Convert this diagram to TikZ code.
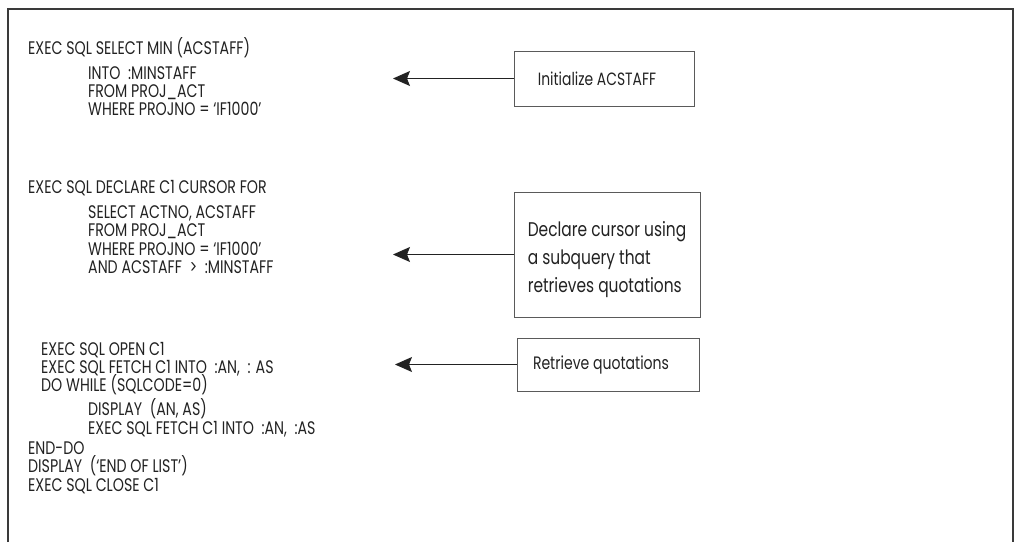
\documentclass[tikz,border=0pt]{standalone}
\usepackage{fontspec}
\setmainfont{Poppins}[FakeStretch=0.78]
\usetikzlibrary{arrows.meta}
\definecolor{ink}{HTML}{222222}
\definecolor{framecol}{HTML}{3A3A3A}
\definecolor{boxline}{HTML}{5A5A5A}
\begin{document}
\begin{tikzpicture}[x=1pt,y=-1pt,
  code/.style={anchor=base west, inner sep=0pt, font=\fontsize{18.2}{20}\selectfont, text=ink},
  note/.style={draw=boxline, line width=1pt, align=left, inner sep=0pt, text=ink},
  pointer/.style={draw=ink, line width=0.9pt, -{Stealth[length=17pt,width=15pt,inset=3pt]}}]
\useasboundingbox (0,0) rectangle (1019,542);
\draw[framecol, line width=2pt] (8,542) -- (8,9) -- (1013,9) -- (1013,542);
% block 1
\node[code] (l1) at (28,54) {EXEC SQL SELECT MIN (ACSTAFF)};
\node[code] (l2) at (88,79) {INTO\ \ :MINSTAFF};
\node[code] (l3) at (88,97) {FROM PROJ\_ACT};
\node[code] (l4) at (88,115) {WHERE PROJNO = `IF1000'};
% block 2
\node[code] (m1) at (28,193) {EXEC SQL DECLARE C1 CURSOR FOR};
\node[code] (m2) at (88,218) {SELECT ACTNO, ACSTAFF};
\node[code] (m3) at (88,236) {FROM PROJ\_ACT};
\node[code] (m4) at (88,255) {WHERE PROJNO = `IF1000'};
\node[code] (m5) at (88,273) {AND ACSTAFF\ \ >\ \ :MINSTAFF};
% block 3
\node[code] (n1) at (41,355) {EXEC SQL OPEN C1};
\node[code] (n2) at (41,373) {EXEC SQL FETCH C1 INTO\ \ :AN,\ \ : AS};
\node[code] (n3) at (41,391) {DO WHILE (SQLCODE=0)};
\node[code] (n4) at (88,415) {DISPLAY\ \ (AN, AS)};
\node[code] (n5) at (88,434) {EXEC SQL FETCH C1 INTO\ \ :AN,\ \ :AS};
\node[code] (n6) at (28,454) {END-DO};
\node[code] (n7) at (28,472) {DISPLAY\ \ (`END OF LIST')};
\node[code] (n8) at (28,491) {EXEC SQL CLOSE C1};
% notes
\node[note, minimum width=180pt, minimum height=55pt,
      font=\fontsize{17.8}{20}\selectfont] (b1) at (604,78.5) {Initialize ACSTAFF\kern14pt};
\node[note, minimum width=186pt, minimum height=125pt,
      font=\fontsize{19.8}{28}\selectfont] (b2) at (607,254.5)
      {\rule{0pt}{26pt}Declare cursor using\\a subquery that\\retrieves quotations};
\node[note, minimum width=182pt, minimum height=53pt,
      font=\fontsize{18}{20}\selectfont] (b3) at (608,364.5) {Retrieve quotations\kern14pt};
\coordinate (t1) at (393,78.5);
\coordinate (t2) at (393,254.5);
\coordinate (t3) at (395,364.5);
\draw[pointer] (b1.west) -- (t1);
\draw[pointer] (b2.west) -- (t2);
\draw[pointer] (b3.west) -- (t3);
\end{tikzpicture}
\end{document}
